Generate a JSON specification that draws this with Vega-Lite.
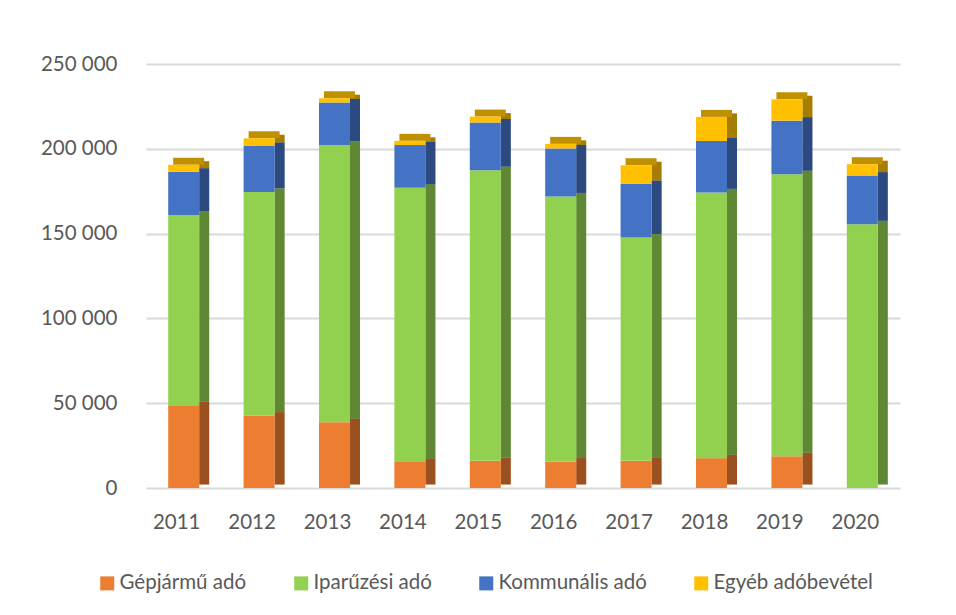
{
  "$schema": "https://vega.github.io/schema/vega-lite/v6.json",
  "autosize": "none",
  "width": 754,
  "height": 424,
  "padding": {"left": 146, "top": 64, "right": 56, "bottom": 127},
  "background": "white",
  "config": {
    "view": {"stroke": null},
    "font": "Lato",
    "axis": {"labelFont": "Lato", "labelColor": "#595959", "labelFontSize": 20.5},
    "legend": {"labelFont": "Lato", "labelColor": "#595959", "labelFontSize": 20.5}
  },
  "data": {
    "values": [
      {"year": "2011", "series": "Gépjármű adó", "o": 1, "value": 48800},
      {"year": "2011", "series": "Iparűzési adó", "o": 2, "value": 112200},
      {"year": "2011", "series": "Kommunális adó", "o": 3, "value": 25500},
      {"year": "2011", "series": "Egyéb adóbevétel", "o": 4, "value": 4100},
      {"year": "2012", "series": "Gépjármű adó", "o": 1, "value": 42700},
      {"year": "2012", "series": "Iparűzési adó", "o": 2, "value": 131900},
      {"year": "2012", "series": "Kommunális adó", "o": 3, "value": 27100},
      {"year": "2012", "series": "Egyéb adóbevétel", "o": 4, "value": 4500},
      {"year": "2013", "series": "Gépjármű adó", "o": 1, "value": 38800},
      {"year": "2013", "series": "Iparűzési adó", "o": 2, "value": 163500},
      {"year": "2013", "series": "Kommunális adó", "o": 3, "value": 25000},
      {"year": "2013", "series": "Egyéb adóbevétel", "o": 4, "value": 2500},
      {"year": "2014", "series": "Gépjármű adó", "o": 1, "value": 15400},
      {"year": "2014", "series": "Iparűzési adó", "o": 2, "value": 161600},
      {"year": "2014", "series": "Kommunális adó", "o": 3, "value": 25200},
      {"year": "2014", "series": "Egyéb adóbevétel", "o": 4, "value": 2500},
      {"year": "2015", "series": "Gépjármű adó", "o": 1, "value": 16000},
      {"year": "2015", "series": "Iparűzési adó", "o": 2, "value": 171400},
      {"year": "2015", "series": "Kommunális adó", "o": 3, "value": 28100},
      {"year": "2015", "series": "Egyéb adóbevétel", "o": 4, "value": 3500},
      {"year": "2016", "series": "Gépjármű adó", "o": 1, "value": 15600},
      {"year": "2016", "series": "Iparűzési adó", "o": 2, "value": 156300},
      {"year": "2016", "series": "Kommunális adó", "o": 3, "value": 28300},
      {"year": "2016", "series": "Egyéb adóbevétel", "o": 4, "value": 2700},
      {"year": "2017", "series": "Gépjármű adó", "o": 1, "value": 16000},
      {"year": "2017", "series": "Iparűzési adó", "o": 2, "value": 131700},
      {"year": "2017", "series": "Kommunális adó", "o": 3, "value": 31600},
      {"year": "2017", "series": "Egyéb adóbevétel", "o": 4, "value": 11000},
      {"year": "2018", "series": "Gépjármű adó", "o": 1, "value": 17600},
      {"year": "2018", "series": "Iparűzési adó", "o": 2, "value": 156700},
      {"year": "2018", "series": "Kommunális adó", "o": 3, "value": 30300},
      {"year": "2018", "series": "Egyéb adóbevétel", "o": 4, "value": 14200},
      {"year": "2019", "series": "Gépjármű adó", "o": 1, "value": 18700},
      {"year": "2019", "series": "Iparűzési adó", "o": 2, "value": 166300},
      {"year": "2019", "series": "Kommunális adó", "o": 3, "value": 31600},
      {"year": "2019", "series": "Egyéb adóbevétel", "o": 4, "value": 12600},
      {"year": "2020", "series": "Gépjármű adó", "o": 1, "value": 0},
      {"year": "2020", "series": "Iparűzési adó", "o": 2, "value": 155500},
      {"year": "2020", "series": "Kommunális adó", "o": 3, "value": 28700},
      {"year": "2020", "series": "Egyéb adóbevétel", "o": 4, "value": 6700}
    ]
  },
  "encoding": {
    "x": {
      "field": "year", "type": "ordinal",
      "scale": {"paddingInner": 0, "paddingOuter": 0},
      "axis": {"title": null, "labelAngle": 0, "domain": false, "ticks": false, "labelPadding": 24, "labelOffset": -7}
    }
  },
  "layer": [
    {
      "mark": {"type": "bar", "size": 10, "xOffset": 20.5, "yOffset": -3.5},
      "encoding": {
        "y": {
          "field": "value", "type": "quantitative", "stack": "zero",
          "scale": {"domain": [0, 250000], "nice": false},
          "axis": {
            "title": null, "values": [0, 50000, 100000, 150000, 200000, 250000],
            "domain": false, "ticks": false, "labelPadding": 29,
            "gridColor": "#d9d9d9", "gridWidth": 2,
            "labelExpr": "replace(format(datum.value, ','), ',', ' ')"
          }
        },
        "order": {"field": "o", "type": "quantitative", "sort": "ascending"},
        "color": {
          "field": "series", "type": "nominal",
          "scale": {
            "domain": ["Gépjármű adó", "Iparűzési adó", "Kommunális adó", "Egyéb adóbevétel"],
            "range": ["#ED7D31", "#92D050", "#4472C4", "#FFC000"]
          },
          "legend": {
            "title": null, "orient": "none", "legendX": -49, "legendY": 509,
            "direction": "horizontal", "columns": 4, "symbolType": "square",
            "symbolSize": 196, "symbolStrokeWidth": 0, "labelOffset": 2, "columnPadding": 44
          }
        }
      }
    },
    {
      "mark": {"type": "bar", "size": 10, "xOffset": 20.5, "yOffset": -3.5, "opacity": 0.35},
      "encoding": {
        "y": {"field": "value", "type": "quantitative", "stack": "zero"},
        "order": {"field": "o", "type": "quantitative", "sort": "ascending"},
        "detail": {"field": "series"},
        "color": {"value": "black"}
      }
    },
    {
      "mark": {"type": "tick", "size": 31, "thickness": 7, "xOffset": 5, "yOffset": -3.5, "opacity": 1},
      "encoding": {
        "y": {"aggregate": "sum", "field": "value", "type": "quantitative"},
        "color": {"value": "#BF9000"}
      }
    },
    {
      "mark": {"type": "bar", "size": 31},
      "encoding": {
        "y": {"field": "value", "type": "quantitative", "stack": "zero"},
        "order": {"field": "o", "type": "quantitative", "sort": "ascending"},
        "color": {"field": "series", "type": "nominal"}
      }
    }
  ]
}
